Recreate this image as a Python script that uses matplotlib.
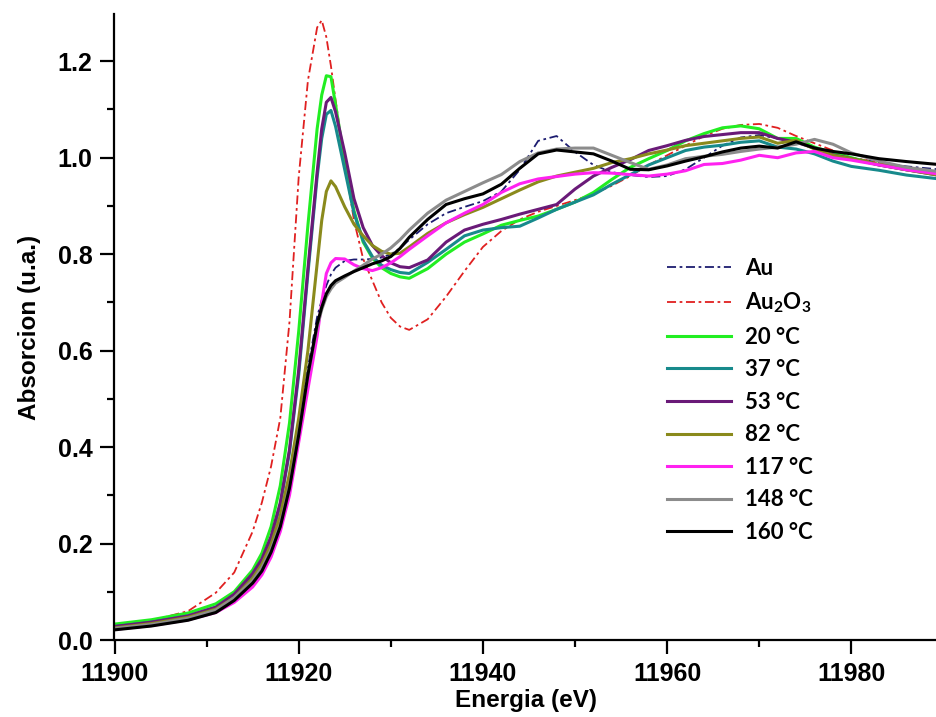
import matplotlib
matplotlib.use("Agg")
import matplotlib.pyplot as plt
from matplotlib.ticker import MultipleLocator, FormatStrFormatter

# energias (eV) comunes a todas las curvas
energia = [11900, 11904, 11908, 11911, 11913, 11915, 11916, 11917, 11918, 11919,
           11920, 11921, 11922, 11922.5, 11923, 11923.5, 11924, 11925, 11926, 11927,
           11928, 11929, 11930, 11931, 11932, 11934, 11936, 11938, 11940, 11942,
           11944, 11946, 11948, 11950, 11952, 11954, 11956, 11958, 11960, 11962,
           11964, 11966, 11968, 11970, 11972, 11974, 11976, 11978, 11980, 11983,
           11986, 11990]

au = [0.025, 0.033, 0.045, 0.060, 0.082, 0.120, 0.150, 0.190, 0.245, 0.330,
      0.440, 0.565, 0.670, 0.705, 0.735, 0.758, 0.772, 0.786, 0.789, 0.789,
      0.790, 0.793, 0.800, 0.812, 0.830, 0.862, 0.885, 0.898, 0.910, 0.930,
      0.975, 1.035, 1.045, 1.012, 0.985, 0.970, 0.964, 0.960, 0.962, 0.976,
      1.000, 1.025, 1.042, 1.047, 1.040, 1.032, 1.020, 1.010, 1.000, 0.990,
      0.982, 0.975]

au2o3 = [0.030, 0.040, 0.060, 0.098, 0.140, 0.225, 0.285, 0.360, 0.460, 0.660,
         0.960, 1.160, 1.270, 1.285, 1.250, 1.190, 1.120, 0.990, 0.870, 0.790,
         0.745, 0.700, 0.668, 0.650, 0.643, 0.665, 0.712, 0.765, 0.815, 0.848,
         0.872, 0.888, 0.900, 0.912, 0.925, 0.942, 0.962, 0.985, 1.005, 1.025,
         1.045, 1.060, 1.068, 1.070, 1.062, 1.045, 1.030, 1.015, 1.000, 0.990,
         0.980, 0.970]

t20 = [0.033, 0.042, 0.056, 0.075, 0.100, 0.145, 0.180, 0.235, 0.320, 0.450,
       0.640, 0.860, 1.060, 1.130, 1.170, 1.168, 1.110, 0.990, 0.890, 0.825,
       0.792, 0.772, 0.760, 0.753, 0.750, 0.770, 0.800, 0.825, 0.842, 0.860,
       0.870, 0.879, 0.893, 0.908, 0.928, 0.955, 0.980, 0.998, 1.015, 1.035,
       1.050, 1.062, 1.066, 1.060, 1.040, 1.040, 1.022, 1.010, 1.000, 0.985,
       0.975, 0.965]

t37 = [0.028, 0.037, 0.050, 0.068, 0.093, 0.135, 0.165, 0.210, 0.280, 0.390,
       0.550, 0.760, 0.960, 1.040, 1.090, 1.098, 1.065, 0.975, 0.885, 0.828,
       0.795, 0.777, 0.768, 0.762, 0.760, 0.783, 0.810, 0.838, 0.850, 0.855,
       0.858, 0.875, 0.893, 0.908, 0.923, 0.945, 0.965, 0.985, 1.000, 1.015,
       1.022, 1.026, 1.032, 1.035, 1.022, 1.018, 1.008, 0.993, 0.982, 0.974,
       0.964, 0.955]

t53 = [0.028, 0.037, 0.050, 0.068, 0.095, 0.138, 0.168, 0.215, 0.285, 0.395,
       0.560, 0.770, 0.970, 1.060, 1.115, 1.125, 1.095, 1.010, 0.915, 0.855,
       0.818, 0.797, 0.782, 0.774, 0.772, 0.788, 0.825, 0.850, 0.862, 0.872,
       0.883, 0.893, 0.903, 0.935, 0.962, 0.980, 0.996, 1.015, 1.025, 1.036,
       1.044, 1.048, 1.052, 1.052, 1.040, 1.032, 1.020, 1.006, 0.998, 0.985,
       0.975, 0.962]

t82 = [0.025, 0.034, 0.047, 0.064, 0.088, 0.128, 0.157, 0.198, 0.258, 0.345,
       0.460, 0.600, 0.780, 0.870, 0.930, 0.952, 0.940, 0.898, 0.862, 0.838,
       0.818, 0.806, 0.800, 0.802, 0.815, 0.843, 0.865, 0.882, 0.897, 0.915,
       0.933, 0.950, 0.962, 0.970, 0.978, 0.990, 0.998, 1.008, 1.016, 1.025,
       1.030, 1.035, 1.040, 1.043, 1.030, 1.036, 1.018, 1.005, 0.998, 0.986,
       0.975, 0.962]

t117 = [0.022, 0.030, 0.042, 0.057, 0.078, 0.110, 0.135, 0.172, 0.225, 0.300,
        0.410, 0.520, 0.630, 0.700, 0.760, 0.782, 0.791, 0.790, 0.778, 0.770,
        0.766, 0.772, 0.782, 0.795, 0.810, 0.838, 0.865, 0.885, 0.903, 0.928,
        0.946, 0.956, 0.961, 0.966, 0.969, 0.968, 0.965, 0.962, 0.966, 0.973,
        0.986, 0.988, 0.995, 1.005, 1.000, 1.010, 1.013, 1.000, 0.995, 0.985,
        0.975, 0.965]

t148 = [0.024, 0.032, 0.045, 0.062, 0.088, 0.123, 0.150, 0.188, 0.240, 0.320,
        0.430, 0.550, 0.650, 0.685, 0.712, 0.728, 0.740, 0.752, 0.765, 0.777,
        0.790, 0.800, 0.813, 0.830, 0.850, 0.885, 0.912, 0.930, 0.948, 0.965,
        0.992, 1.010, 1.018, 1.020, 1.020, 1.005, 0.990, 0.976, 0.985, 0.998,
        1.003, 1.007, 1.013, 1.018, 1.022, 1.028, 1.038, 1.028, 1.010, 0.993,
        0.980, 0.970]

t160 = [0.021, 0.029, 0.041, 0.057, 0.082, 0.118, 0.143, 0.182, 0.235, 0.315,
        0.425, 0.550, 0.655, 0.690, 0.718, 0.735, 0.745, 0.755, 0.764, 0.772,
        0.780, 0.786, 0.795, 0.812, 0.835, 0.872, 0.903, 0.915, 0.925, 0.945,
        0.978, 1.008, 1.016, 1.012, 1.008, 0.993, 0.976, 0.975, 0.983, 0.993,
        1.002, 1.012, 1.020, 1.024, 1.020, 1.033, 1.020, 1.013, 1.008, 0.998,
        0.992, 0.985]

etiquetas = ["20 °C", "37 °C", "53 °C", "82 °C", "117 °C", "148 °C", "160 °C"]
series = [t20, t37, t53, t82, t117, t148, t160]
colores = ["#22ee22", "#178a8c", "#6a1a78", "#8a8a1c", "#ff22f0", "#8c8c8c", "#000000"]

plt.rcParams["font.family"] = "Liberation Sans"
plt.rcParams["font.weight"] = "bold"
plt.rcParams["mathtext.fontset"] = "custom"
plt.rcParams["mathtext.rm"] = "Lato:bold"
plt.rcParams["mathtext.it"] = "Lato:bold"
plt.rcParams["mathtext.bf"] = "Lato:bold"

fig = plt.figure(figsize=(9.37, 7.17), dpi=100)
ax = fig.add_axes([114.5 / 937, 77 / 717, 822.5 / 937, 626 / 717])

ax.plot(energia, au, color="#1c1c70", lw=1.3, dashes=(5, 2, 1.5, 2), label="Au")
ax.plot(energia, au2o3, color="#e02020", lw=1.3, dashes=(5, 2, 1.5, 2),
        label=r"Au$_{2}$O$_{3}$")
for y, c, lab in zip(series, colores, etiquetas):
    ax.plot(energia, y, color=c, lw=2.2, label=lab)

ax.set_xlim(11900, 11989.3)
ax.set_ylim(0, 1.298)
ax.xaxis.set_major_locator(MultipleLocator(20))
ax.xaxis.set_minor_locator(MultipleLocator(10))
ax.yaxis.set_major_locator(MultipleLocator(0.2))
ax.yaxis.set_minor_locator(MultipleLocator(0.1))
ax.yaxis.set_major_formatter(FormatStrFormatter("%.1f"))

for s in ["top", "right"]:
    ax.spines[s].set_visible(False)
for s in ["left", "bottom"]:
    ax.spines[s].set_linewidth(1.6)

ax.tick_params(which="major", direction="out", length=10, width=1.6, pad=6,
               labelsize=18)
ax.tick_params(which="minor", direction="out", length=5, width=1.6)

ax.set_xlabel("Energia (eV)", fontsize=17.5, fontweight="bold", labelpad=2)
ax.set_ylabel("Absorcion (u.a.)", fontsize=17.5, fontweight="bold", labelpad=12)

leg = ax.legend(loc="center left", bbox_to_anchor=(667 / 937, 1 - 400.5 / 717),
                bbox_transform=fig.transFigure, frameon=False, borderpad=0,
                borderaxespad=0, handlelength=2.9, handletextpad=0.6,
                labelspacing=0.52, prop={"family": "Lato", "weight": "bold", "size": 16})

fig.savefig("out.png", dpi=100)
